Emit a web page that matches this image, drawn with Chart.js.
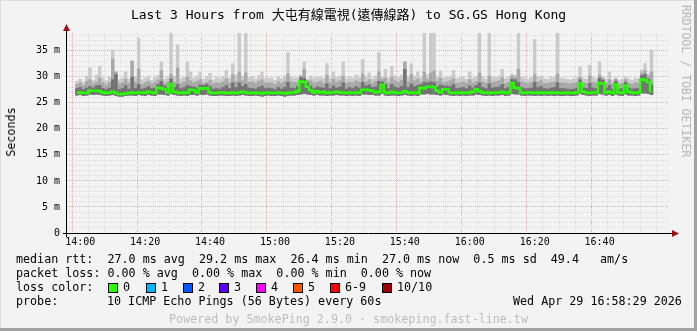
<!DOCTYPE html>
<html>
<head>
<meta charset="utf-8">
<script src="https://cdn.jsdelivr.net/npm/chart.js@4"></script>
<style>
body { margin:0; }
#frame { position:relative; width:697px; height:331px; background:#f3f3f3; overflow:hidden;
  font-family:'DejaVu Sans Mono', monospace; color:#000; }
#frame .edgeR { position:absolute; right:0; top:0; width:3px; height:331px; background:#a2a2a2; }
#frame .edgeB { position:absolute; left:0; bottom:0; width:697px; height:3px; background:#a2a2a2; }
#frame .edgeL { position:absolute; left:0; top:0; width:1px; height:331px; background:#dedede; }
#frame .edgeT { position:absolute; left:0; top:0; width:697px; height:1px; background:#dedede; }
#chart { position:absolute; left:0; top:0; }
.txt { position:absolute; white-space:pre; font-size:11.7px; line-height:14px; }
#title { position:absolute; left:0; width:697px; top:7px; text-align:center; font-size:13px; line-height:16px;
  font-family:'DejaVu Sans Mono', 'Noto Sans CJK TC', monospace; white-space:pre; }
#brand { position:absolute; left:686px; top:81px; transform:translate(-50%,-50%) rotate(90deg);
  font-size:11.5px; color:#b4b4b4; white-space:pre; }
#ylab { position:absolute; left:11px; top:132px; transform:translate(-50%,-50%) rotate(-90deg);
  font-size:11.7px; white-space:pre; }
.box { position:absolute; width:8px; height:8px; border:1px solid #000; top:283px; }
#powered { position:absolute; left:0; width:697px; top:312px; text-align:center; color:#bdbdbd;
  font-size:11.7px; line-height:14px; white-space:pre; }
</style>
</head>
<body>
<div id="frame">
  <div class="edgeL"></div><div class="edgeT"></div>
  <canvas id="chart" width="697" height="260"></canvas>
  <div id="title">Last 3 Hours from 大屯有線電視(遠傳線路) to SG.GS Hong Kong</div>
  <div id="brand">RRDTOOL / TOBI OETIKER</div>
  <div id="ylab">Seconds</div>
  <div class="txt" style="left:16px;top:252px">median rtt:  27.0 ms avg  29.2 ms max  26.4 ms min  27.0 ms now  0.5 ms sd  49.4   am/s</div>
  <div class="txt" style="left:16px;top:266px">packet loss: 0.00 % avg  0.00 % max  0.00 % min  0.00 % now</div>
  <div class="txt" style="left:16px;top:280px">loss color:</div>
  <div id="lossBoxes"></div>
  <div class="txt" style="left:16px;top:294px">probe:</div>
  <div class="txt" style="left:107px;top:294px">10 ICMP Echo Pings (56 Bytes) every 60s</div>
  <div class="txt" style="left:513px;top:294px">Wed Apr 29 16:58:29 2026</div>
  <div id="powered">Powered by SmokePing 2.9.0 · smokeping.fast-line.tw</div>
  <div class="edgeR"></div><div class="edgeB"></div>
</div>
<script>
// one value per minute, first bar is 13:59
var medianRtt = [
  26.9, 27.0, 26.9, 26.9, 27.3, 27.3, 27.3, 27.2, 27.0, 26.9,
  27.0, 27.1, 26.9, 26.7, 26.7, 26.8, 26.9, 27.0, 26.9, 27.0,
  27.0, 26.9, 27.1, 27.0, 26.9, 27.9, 27.8, 27.6, 27.0, 28.6,
  27.1, 27.0, 26.9, 27.0, 26.9, 27.5, 27.4, 27.0, 27.8, 27.7,
  27.8, 27.0, 26.9, 26.9, 27.0, 27.0, 26.9, 26.9, 27.0, 26.9,
  27.0, 27.1, 27.0, 26.9, 26.9, 27.0, 26.9, 26.8, 26.9, 27.0,
  26.9, 26.9, 27.0, 26.9, 26.8, 26.9, 27.0, 27.0, 27.2, 29.1,
  29.0, 28.1, 27.4, 27.0, 27.2, 27.0, 27.1, 26.9, 27.0, 27.0,
  27.1, 27.0, 27.0, 26.9, 27.0, 26.9, 27.0, 26.9, 27.5, 27.5,
  27.4, 27.3, 27.0, 27.1, 28.4, 27.0, 26.9, 27.1, 27.0, 26.9,
  27.0, 27.2, 27.0, 26.9, 27.0, 26.9, 27.9, 27.8, 28.1, 28.1,
  28.0, 27.3, 27.0, 27.6, 27.6, 27.0, 26.9, 27.0, 26.9, 27.0,
  26.9, 27.0, 27.1, 27.6, 27.2, 27.0, 26.9, 27.0, 26.9, 27.0,
  27.0, 27.1, 26.9, 27.0, 28.8, 27.9, 27.8, 27.0, 26.9, 27.0,
  27.0, 26.9, 27.0, 26.9, 27.0, 26.9, 27.0, 26.9, 27.0, 26.9,
  26.9, 27.0, 26.9, 26.9, 27.0, 28.7, 27.1, 27.0, 26.9, 27.0,
  27.0, 28.8, 28.7, 27.0, 27.1, 26.9, 28.5, 27.0, 26.9, 28.3,
  27.1, 27.0, 26.9, 27.0, 29.5, 29.4, 29.0, 27.2, null, null
];
var minPing = [
  26.4, 26.5, 26.3, 26.4, 26.6, 26.5, 26.6, 26.5, 26.4, 26.3,
  26.4, 26.5, 26.3, 26.2, 26.2, 26.3, 26.4, 26.4, 26.3, 26.5,
  26.4, 26.3, 26.5, 26.4, 26.3, 26.6, 26.6, 26.5, 26.4, 26.7,
  26.5, 26.4, 26.3, 26.4, 26.3, 26.5, 26.5, 26.4, 26.6, 26.5,
  26.6, 26.4, 26.3, 26.3, 26.4, 26.4, 26.3, 26.3, 26.4, 26.3,
  26.4, 26.5, 26.4, 26.3, 26.3, 26.4, 26.3, 26.2, 26.3, 26.4,
  26.3, 26.3, 26.4, 26.3, 26.2, 26.3, 26.4, 26.4, 26.5, 26.6,
  26.7, 26.6, 26.5, 26.4, 26.5, 26.4, 26.4, 26.3, 26.4, 26.4,
  26.5, 26.4, 26.4, 26.3, 26.4, 26.3, 26.4, 26.3, 26.6, 26.6,
  26.5, 26.5, 26.4, 26.4, 26.7, 26.4, 26.3, 26.4, 26.4, 26.3,
  26.4, 26.5, 26.4, 26.3, 26.4, 26.3, 26.6, 26.6, 26.7, 26.6,
  26.6, 26.5, 26.4, 26.6, 26.5, 26.4, 26.3, 26.4, 26.3, 26.4,
  26.3, 26.4, 26.4, 26.6, 26.5, 26.4, 26.3, 26.4, 26.3, 26.4,
  26.4, 26.5, 26.3, 26.4, 26.7, 26.6, 26.6, 26.4, 26.3, 26.4,
  26.4, 26.3, 26.4, 26.3, 26.4, 26.3, 26.4, 26.3, 26.4, 26.3,
  26.3, 26.4, 26.3, 26.3, 26.4, 26.7, 26.5, 26.4, 26.3, 26.4,
  26.4, 26.7, 26.6, 26.4, 26.5, 26.3, 26.6, 26.4, 26.3, 26.6,
  26.4, 26.4, 26.3, 26.4, 26.8, 26.8, 26.7, 26.5, null, null
];
var innerSmoke = [
  27.8, 28.0, 27.6, 27.9, 28.2, 27.9, 28.3, 28.4, 27.8, 27.6,
  27.9, 29.5, 30.5, 27.6, 27.8, 28.4, 27.7, 30.0, 27.8, 28.6,
  27.7, 27.9, 28.2, 27.8, 27.9, 28.6, 29.2, 28.3, 27.9, 29.6,
  28.0, 28.6, 27.8, 28.0, 28.4, 28.2, 28.1, 27.9, 28.5, 28.4,
  28.6, 28.2, 27.7, 27.8, 27.7, 28.0, 28.4, 27.8, 28.9, 28.0,
  28.9, 28.2, 28.6, 27.9, 27.8, 27.7, 28.0, 28.3, 27.8, 27.9,
  27.8, 27.6, 28.0, 27.7, 28.0, 29.0, 27.9, 27.8, 28.2, 29.9,
  29.8, 28.9, 28.3, 27.8, 28.1, 28.0, 27.9, 28.7, 27.8, 28.3,
  27.9, 28.1, 28.9, 27.7, 28.0, 27.8, 28.2, 27.9, 29.0, 28.3,
  28.5, 28.0, 28.1, 29.2, 29.1, 28.6, 27.8, 28.6, 28.1, 27.9,
  28.2, 31.5, 28.0, 28.7, 28.2, 28.4, 28.6, 29.0, 28.9, 29.1,
  29.0, 28.1, 28.5, 28.3, 28.3, 28.2, 28.6, 27.8, 27.9, 28.0,
  27.8, 28.3, 27.9, 28.4, 28.9, 28.0, 27.8, 28.7, 27.9, 28.0,
  28.1, 28.6, 27.8, 28.0, 29.6, 29.5, 29.0, 28.0, 27.8, 27.8,
  27.9, 29.0, 28.0, 28.2, 27.8, 27.7, 27.9, 28.0, 28.9, 27.8,
  27.8, 27.7, 27.6, 27.7, 27.9, 29.5, 27.9, 27.8, 28.8, 27.9,
  27.8, 29.8, 29.4, 27.8, 28.4, 27.7, 29.2, 27.7, 27.8, 29.0,
  27.9, 27.7, 27.8, 27.8, 30.3, 30.5, 29.6, 28.5, null, null
];
var midSmoke = [
  28.6, 28.9, 28.4, 29.2, 29.5, 28.7, 29.0, 29.8, 28.9, 28.5,
  29.0, 33.5, 31.0, 28.7, 28.9, 29.6, 28.8, 33.1, 29.0, 31.5,
  28.6, 28.9, 29.2, 28.7, 29.0, 29.4, 31.2, 28.8, 29.1, 30.5,
  29.0, 31.8, 28.8, 29.1, 30.0, 29.3, 28.9, 29.2, 29.5, 28.8,
  29.0, 29.4, 28.7, 28.9, 28.8, 29.1, 29.6, 28.9, 30.5, 29.2,
  31.0, 29.3, 30.8, 29.0, 29.1, 28.8, 29.2, 29.5, 28.9, 28.9,
  28.9, 28.6, 29.1, 28.8, 29.2, 30.6, 29.1, 29.0, 29.0, 30.3,
  31.5, 29.4, 29.3, 28.9, 29.0, 29.2, 28.8, 30.4, 28.9, 29.6,
  29.0, 29.3, 30.2, 28.8, 29.1, 28.9, 29.3, 29.0, 30.6, 29.1,
  29.5, 28.8, 29.2, 31.0, 29.6, 29.8, 28.9, 30.0, 29.3, 29.0,
  29.4, 32.9, 29.1, 30.5, 29.3, 29.6, 29.0, 31.0, 29.5, 30.8,
  31.2, 29.2, 29.8, 28.9, 29.1, 29.3, 29.7, 28.8, 29.0, 29.1,
  28.8, 29.5, 28.9, 29.2, 30.8, 29.1, 28.8, 30.2, 29.0, 29.1,
  29.3, 29.9, 28.8, 29.0, 30.2, 30.0, 31.5, 29.1, 28.9, 28.8,
  29.0, 30.5, 29.1, 29.3, 28.8, 28.8, 29.0, 29.1, 30.6, 28.9,
  28.9, 28.8, 28.7, 28.8, 29.0, 30.0, 28.9, 28.8, 30.2, 29.0,
  28.8, 30.4, 29.8, 28.8, 29.5, 28.7, 29.6, 28.6, 28.8, 29.5,
  28.8, 28.6, 28.9, 28.8, 30.8, 31.2, 30.2, 31.0, null, null
];
var maxPing = [
  29.2, 29.6, 29.0, 30.2, 31.8, 29.4, 30.4, 32.1, 29.8, 29.3,
  30.0, 35.2, 31.0, 29.5, 29.8, 31.0, 29.6, 33.1, 30.1, 37.4,
  29.5, 29.8, 30.2, 29.4, 29.9, 30.3, 32.9, 29.6, 29.9, 39.5,
  30.1, 36.2, 29.7, 30.0, 32.9, 31.0, 29.8, 30.2, 31.0, 29.6,
  30.0, 30.7, 29.5, 29.9, 29.7, 30.1, 31.3, 29.8, 32.6, 30.4,
  39.5, 30.2, 39.5, 29.9, 30.0, 29.6, 30.3, 31.0, 29.7, 29.8,
  29.8, 29.4, 30.0, 29.7, 30.2, 34.7, 30.0, 29.8, 29.9, 30.3,
  32.9, 29.6, 30.2, 29.8, 29.9, 30.1, 29.7, 32.6, 29.8, 31.0,
  29.9, 30.2, 32.9, 29.7, 30.0, 29.8, 30.4, 29.9, 33.4, 30.0,
  30.8, 29.7, 30.2, 34.7, 30.0, 31.5, 29.8, 32.1, 30.3, 29.9,
  30.4, 32.9, 30.0, 32.6, 30.2, 31.0, 29.9, 39.5, 30.4, 39.5,
  39.5, 30.1, 31.2, 29.8, 30.0, 30.2, 31.3, 29.7, 29.9, 30.0,
  29.6, 31.0, 29.8, 30.1, 39.5, 30.0, 29.6, 39.5, 29.9, 30.0,
  30.2, 31.5, 29.7, 29.9, 30.6, 30.4, 39.5, 30.0, 29.8, 29.6,
  29.9, 37.2, 30.0, 30.2, 29.7, 29.6, 29.9, 30.0, 39.5, 29.8,
  29.8, 29.6, 29.5, 29.7, 29.9, 32.0, 29.8, 29.6, 32.3, 29.9,
  29.7, 32.9, 30.0, 29.6, 31.0, 29.5, 29.8, 29.4, 29.6, 30.0,
  29.7, 29.4, 29.8, 29.6, 31.4, 32.6, 30.6, 35.2, null, null
];
var xTickLabels = ['14:00', '14:20', '14:40', '15:00', '15:20', '15:40', '16:00', '16:20', '16:40'];
var yTickLabels = ['0', '5 m', '10 m', '15 m', '20 m', '25 m', '30 m', '35 m'];
var lossLabels = ['0', '1', '2', '3', '4', '5', '6-9', '10/10'];
var lossColors = ['#26ff00', '#00b8ff', '#0059ff', '#5e00ff', '#ff00ff', '#ff5500', '#ff0000', '#a10000'];
var lossBoxX = [108, 146, 183, 219, 256, 293, 330, 382];

// loss colour legend
var boxes = document.getElementById('lossBoxes');
for (var b = 0; b < lossLabels.length; b++) {
    var sq = document.createElement('div');
    sq.className = 'box';
    sq.style.left = lossBoxX[b] + 'px';
    sq.style.background = lossColors[b];
    boxes.appendChild(sq);
    var lb = document.createElement('div');
    lb.className = 'txt';
    lb.style.left = (lossBoxX[b] + 15) + 'px';
    lb.style.top = '280px';
    lb.textContent = lossLabels[b];
    boxes.appendChild(lb);
}

// minutes after 14:00 for each bar
function band(lo, hi) {
    var out = [];
    for (var i = 0; i < lo.length; i++) {
        if (lo[i] === null) continue;
        out.push({ x: i - 1, y: [lo[i], hi[i]] });
    }
    return out;
}
function line(vals) {
    var out = [];
    for (var i = 0; i < vals.length; i++) {
        if (vals[i] === null) continue;
        out.push({ x: i - 1, y: vals[i] });
    }
    return out;
}

var axisArrows = {
    id: 'axisArrows',
    afterDraw: function(chart) {
        var ctx = chart.ctx;
        var a = chart.chartArea;
        ctx.save();
        ctx.strokeStyle = '#000';
        ctx.lineWidth = 1;
        ctx.beginPath();
        ctx.moveTo(a.left - 4, a.bottom + 0.5);
        ctx.lineTo(a.right + 6, a.bottom + 0.5);
        ctx.moveTo(a.left - 0.5, a.bottom + 4);
        ctx.lineTo(a.left - 0.5, a.top - 2);
        ctx.stroke();
        ctx.fillStyle = '#a01010';
        ctx.beginPath();
        ctx.moveTo(a.right + 4, a.bottom - 3);
        ctx.lineTo(a.right + 11, a.bottom + 0.5);
        ctx.lineTo(a.right + 4, a.bottom + 4);
        ctx.closePath();
        ctx.fill();
        ctx.beginPath();
        ctx.moveTo(a.left - 4, a.top - 2);
        ctx.lineTo(a.left - 0.5, a.top - 9);
        ctx.lineTo(a.left + 3, a.top - 2);
        ctx.closePath();
        ctx.fill();
        ctx.restore();
    }
};

var gridMinor = '#dcdcdc';
var gridMajor = '#e6a8a8';
var barOpts = { grouped: false, categoryPercentage: 1, barPercentage: 1.05, borderWidth: 0 };

Chart.defaults.font.family = "'DejaVu Sans Mono', monospace";
Chart.defaults.font.size = 10;
Chart.defaults.color = '#000';

new Chart(document.getElementById('chart'), {
    type: 'bar',
    data: {
        datasets: [
            Object.assign({ label: 'max', data: band(minPing, maxPing), backgroundColor: '#cacaca', order: 4 }, barOpts),
            Object.assign({ label: 'mid', data: band(minPing, midSmoke), backgroundColor: '#a8a8a8', order: 3 }, barOpts),
            Object.assign({ label: 'inner', data: band(minPing, innerSmoke), backgroundColor: '#727272', order: 2 }, barOpts),
            {
                type: 'line', label: 'median rtt', data: line(medianRtt), order: 1,
                borderColor: '#26ff00', borderWidth: 2.5, pointRadius: 0, stepped: 'middle', fill: false
            }
        ]
    },
    options: {
        responsive: false,
        animation: false,
        layout: { padding: { top: 33, right: 29, left: 0, bottom: 0 } },
        plugins: { legend: { display: false }, tooltip: { enabled: false } },
        scales: {
            x: {
                type: 'linear', min: -1.5, max: 178.5,
                afterFit: function(s) { s.height = 27; },
                afterBuildTicks: function(s) {
                    var t = [];
                    for (var v = 0; v <= 175; v += 5) t.push({ value: v });
                    s.ticks = t;
                },
                ticks: {
                    autoSkip: false, maxRotation: 0, padding: 3,
                    callback: function(v) { return v % 20 === 0 ? xTickLabels[v / 20] : ''; }
                },
                grid: {
                    drawTicks: false,
                    color: function(c) { return c.tick && c.tick.value % 20 === 0 ? gridMajor : gridMinor; }
                },
                border: { display: false, dash: [1, 1] }
            },
            y: {
                min: 0, max: 38.4,
                afterFit: function(s) { s.width = 67; },
                afterBuildTicks: function(s) {
                    var t = [];
                    for (var v = 0; v <= 38; v++) t.push({ value: v });
                    s.ticks = t;
                },
                ticks: {
                    autoSkip: false, padding: 7,
                    callback: function(v) { return v % 5 === 0 ? yTickLabels[v / 5] : ''; }
                },
                grid: {
                    drawTicks: false,
                    color: function(c) { return c.tick && c.tick.value % 5 === 0 ? gridMajor : gridMinor; }
                },
                border: { display: false, dash: [1, 1] }
            }
        }
    },
    plugins: [axisArrows]
});
</script>
</body>
</html>
